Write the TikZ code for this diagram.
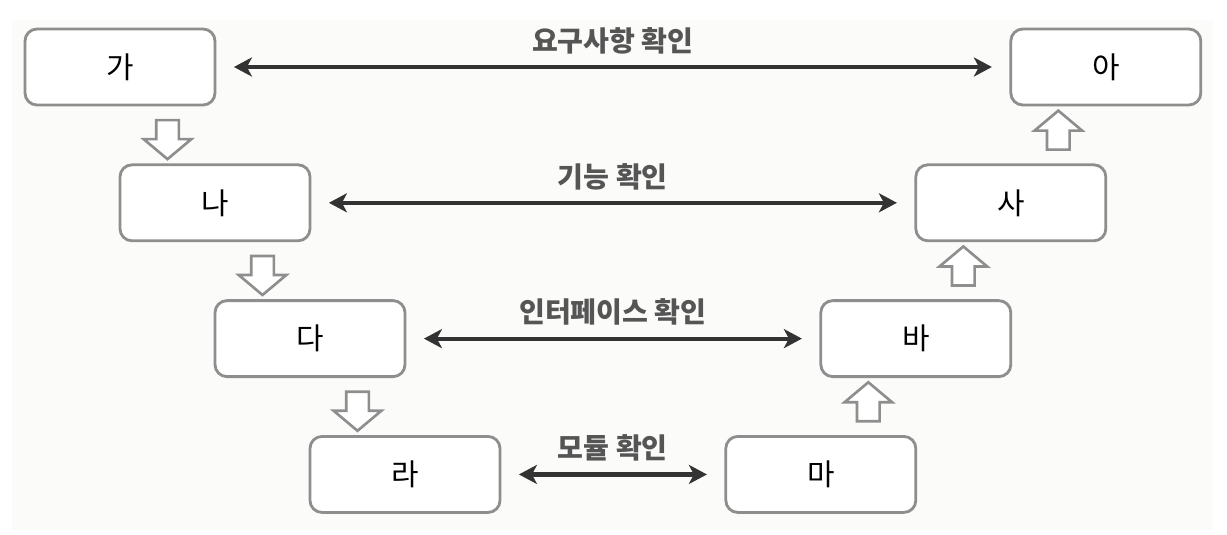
\documentclass[tikz,border=0pt]{standalone}
\usepackage{fontspec}
\setmainfont{Noto Sans CJK KR}
\usepackage{tikz}
\usetikzlibrary{arrows.meta,positioning,calc,shapes.arrows}
\definecolor{boxGray}{HTML}{8E8E8E}
\definecolor{arrDark}{HTML}{333333}
\definecolor{labGray}{HTML}{555555}
\definecolor{bgTone}{HTML}{FBFBF9}

\begin{document}
\begin{tikzpicture}[
  font=\fontsize{17}{20}\selectfont,
  stage/.style={draw=boxGray, fill=white, rounded corners=0.24cm, line width=1.6pt, minimum width=3.8cm, minimum height=1.52cm, inner sep=0pt},
  link/.style={{Stealth[length=3.6mm,width=3.8mm,inset=1mm]}-{Stealth[length=3.6mm,width=3.8mm,inset=1mm]}, draw=arrDark, line width=2.4pt, shorten <=0.35cm, shorten >=0.35cm},
  linklabel/.style={font=\fontsize{16}{18}\selectfont\bfseries, text=labGray, inner sep=0pt, above=0.22cm},
  flow/.style={single arrow, draw=boxGray, fill=white, line width=1.5pt, inner sep=0.2cm, minimum height=0.78cm, single arrow head extend=0.25cm, single arrow tip angle=100},
  flowdown/.style={flow, shape border rotate=270},
  flowup/.style={flow, shape border rotate=90},
]
\useasboundingbox (0,0) rectangle (24.54,-10.68);
\fill[bgTone] (0.24,-0.4) rectangle (24.26,-10.6);

% left side, going down
\node[stage] (ga) at (2.40,-1.34) {가};
\node[stage, below=1.14cm of ga, xshift=1.9cm] (na) {나};
\node[stage, below=1.14cm of na, xshift=1.9cm] (da) {다};
\node[stage, below=1.14cm of da, xshift=1.9cm] (ra) {라};

% right side, going up
\node[stage, right=4.46cm of ra] (ma) {마};
\node[stage, above=1.14cm of ma, xshift=1.9cm] (ba) {바};
\node[stage, above=1.14cm of ba, xshift=1.9cm] (sa) {사};
\node[stage, above=1.14cm of sa, xshift=1.9cm] (aa) {아};

% checks between the two sides
\draw[link] (ga) -- (aa) node[midway, linklabel] {요구사항 확인};
\draw[link] (na) -- (sa) node[midway, linklabel] {기능 확인};
\draw[link] (da) -- (ba) node[midway, linklabel] {인터페이스 확인};
\draw[link] (ra) -- (ma) node[midway, linklabel] {모듈 확인};

% hollow flow arrows
\node[flowdown] (f1) at ($(ga.south east)!0.5!(na.north west)$) {};
\node[flowdown] (f2) at ($(na.south east)!0.5!(da.north west)$) {};
\node[flowdown] (f3) at ($(da.south east)!0.5!(ra.north west)$) {};
\node[flowup] (f4) at ($(ma.north west)!0.5!(ba.south east)$) {};
\node[flowup] (f5) at ($(ba.north west)!0.5!(sa.south east)$) {};
\node[flowup] (f6) at ($(sa.north west)!0.5!(aa.south east)$) {};
\end{tikzpicture}
\end{document}
